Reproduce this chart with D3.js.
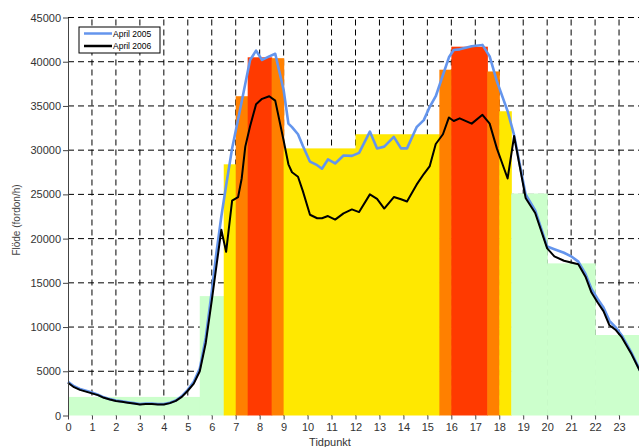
<!DOCTYPE html>
<html>
<head>
<meta charset="utf-8">
<script src="https://cdn.jsdelivr.net/npm/d3@7"></script>
<style>
  body { margin: 0; background: #fff; }
  svg { display: block; font-family: "Liberation Sans", Arial, sans-serif; }
</style>
</head>
<body>
<div id="chart"></div>
<script>
// time points (hours) shared by both series
var hours = [0, 0.25, 0.5, 0.75, 1, 1.25, 1.5, 1.75, 2, 2.25, 2.5, 2.75, 3, 3.25, 3.5, 3.75,
  4, 4.25, 4.5, 4.75, 5, 5.25, 5.5, 5.75, 6, 6.2, 6.4, 6.6, 6.85, 7.1, 7.25, 7.4, 7.6, 7.85,
  8.1, 8.4, 8.65, 9.0, 9.2, 9.35, 9.6, 9.8, 10.1, 10.4, 10.6, 10.85, 11.15, 11.5, 11.85,
  12.15, 12.6, 12.9, 13.2, 13.6, 13.9, 14.15, 14.55, 14.85, 15.1, 15.35, 15.65, 15.9, 16.1,
  16.35, 16.85, 17.3, 17.6, 17.9, 18.35, 18.62, 19.1, 19.5, 20.0, 20.3, 20.7, 21.0, 21.3,
  21.6, 21.85, 22.1, 22.35, 22.6, 22.85, 23.1, 23.5, 24.0];

var april2005 = [3800, 3300, 3000, 2800, 2600, 2350, 2050, 1850, 1700, 1600, 1500, 1400, 1300, 1350, 1350, 1300,
  1300, 1450, 1700, 2200, 2900, 3800, 5300, 8800, 14000, 18500, 22500, 26000, 30200, 33500, 35500, 37500, 40200, 41250,
  40200, 40600, 40900, 36800, 33000, 32600, 31800, 30500, 28700, 28300, 27900, 28950, 28500, 29400, 29350,
  29700, 32100, 30200, 30400, 31500, 30200, 30200, 32600, 33400, 34900, 36100, 38500, 40500, 41330,
  41400, 41750, 41900, 40600, 37800, 34400, 31700, 25000, 23200, 19100, 18800, 18400, 18000, 17400,
  16000, 14300, 13200, 12200, 10700, 10000, 9100, 7200, 4400];

var april2006 = [3700, 3200, 2900, 2700, 2500, 2300, 2000, 1800, 1650, 1550, 1450, 1350, 1250, 1300, 1300, 1250,
  1250, 1400, 1650, 2100, 2800, 3600, 5000, 8200, 13000, 17000, 21000, 18500, 24300, 24700, 26800, 30400, 32700, 35200,
  35800, 36100, 35600, 31100, 28400, 27500, 27000, 25400, 22700, 22300, 22300, 22550, 22150, 22850, 23300,
  23000, 25000, 24500, 23400, 24700, 24450, 24200, 26100, 27300, 28200, 30700, 31800, 33700, 33300,
  33600, 33000, 34000, 33000, 30200, 26800, 31600, 24600, 22900, 18900, 18000, 17500, 17300, 17100,
  15700, 13900, 12800, 11800, 10200, 9700, 8900, 7050, 4300];

// background level steps
var stepStart = [0, 5.5, 6.5, 7, 7.5, 8.5, 9, 12, 15.5, 16, 17.5, 18, 18.5, 20, 22];
var stepEnd   = [5.5, 6.5, 7, 7.5, 8.5, 9, 12, 15.5, 16, 17.5, 18, 18.5, 20, 22, 24];
var stepValue = [2100, 13500, 28400, 36100, 40500, 40400, 30200, 31800, 39100, 41700, 38900, 34400, 25100, 17200, 9100];
var stepLevel = ["low", "low", "mid", "high", "peak", "high", "mid", "mid", "high", "peak", "high", "mid", "low", "low", "low"];

var xTicks = d3.range(0, 24);
var yTicks = [0, 5000, 10000, 15000, 20000, 25000, 30000, 35000, 40000, 45000];
var seriesNames = ["April 2005", "April 2006"];

var levelColor = { low: "#ccffcc", mid: "#ffe800", high: "#ff8000", peak: "#ff3a00" };
var lineColor = ["#6495ed", "#000000"];
var lineWidth = [2.6, 2];

var W = 639, H = 447;
var margin = {top: 17.5, left: 68, bottom: 31.5, right: -4};

var svg = d3.select("#chart").append("svg")
  .attr("width", W).attr("height", H);

var x = d3.scaleLinear().domain([0, 24]).range([margin.left, W - margin.right]);
var y = d3.scaleLinear().domain([0, 45000]).range([H - margin.bottom, margin.top]);

// grid
var grid = svg.append("g").attr("stroke", "#000").attr("stroke-width", 1)
  .attr("stroke-dasharray", "6,4");
grid.selectAll("line.v").data(xTicks.slice(1)).enter().append("line")
  .attr("x1", function(d) { return x(d); }).attr("x2", function(d) { return x(d); })
  .attr("y1", y(0)).attr("y2", y(45000));
grid.selectAll("line.h").data(yTicks.slice(1)).enter().append("line")
  .attr("x1", x(0)).attr("x2", W)
  .attr("y1", function(d) { return y(d); }).attr("y2", function(d) { return y(d); });

// level blocks (slight overlap so no seams show the grid through)
var steps = stepStart.map(function(s, i) {
  return {s: s, e: stepEnd[i], v: stepValue[i], lvl: stepLevel[i]};
});
svg.append("g").selectAll("rect").data(steps).enter().append("rect")
  .attr("x", function(d) { return x(d.s); })
  .attr("width", function(d) { return x(d.e) - x(d.s) + 0.6; })
  .attr("y", function(d) { return y(d.v); })
  .attr("height", function(d) { return y(0) - y(d.v); })
  .attr("fill", function(d) { return levelColor[d.lvl]; });

// lines
var line = d3.line()
  .x(function(d) { return x(d[0]); })
  .y(function(d) { return y(d[1]); });
[april2005, april2006].forEach(function(vals, i) {
  svg.append("path")
    .datum(hours.map(function(h, j) { return [h, vals[j]]; }))
    .attr("d", line)
    .attr("fill", "none")
    .attr("stroke", lineColor[i])
    .attr("stroke-width", lineWidth[i])
    .attr("stroke-linejoin", "round");
});

// axes
var yAxis = svg.append("g")
  .attr("transform", "translate(" + x(0) + ",0)")
  .call(d3.axisLeft(y).tickValues(yTicks).tickFormat(d3.format("d"))
    .tickSize(5).tickPadding(2).tickSizeOuter(0));
var xAxis = svg.append("g")
  .attr("transform", "translate(0," + y(0) + ")")
  .call(d3.axisBottom(x).tickValues(xTicks).tickFormat(d3.format("d"))
    .tickSize(4).tickPadding(4).tickSizeOuter(0));
xAxis.select(".domain").remove();
[xAxis, yAxis].forEach(function(a) {
  a.selectAll("text").attr("fill", "#333").style("font-size", "11px")
    .style("font-family", "'Liberation Sans', Arial, sans-serif");
  a.selectAll("line").attr("stroke", "#444");
  a.select(".domain").attr("stroke", "#444");
});

svg.append("text")
  .attr("x", 330).attr("y", 446)
  .attr("text-anchor", "middle")
  .attr("fill", "#333").style("font-size", "11px")
  .text("Tidpunkt");

svg.append("text")
  .attr("transform", "translate(20,220)rotate(-90)")
  .attr("text-anchor", "middle")
  .attr("fill", "#444").style("font-size", "10px")
  .text("Flöde (fordon/h)");

// legend
var lg = svg.append("g").attr("transform", "translate(79,27)");
lg.append("rect").attr("width", 81).attr("height", 26)
  .attr("fill", "#fff").attr("stroke", "#000").attr("stroke-width", 1);
seriesNames.forEach(function(n, i) {
  var yy = 6.5 + i * 12.5;
  lg.append("line").attr("x1", 5).attr("x2", 33).attr("y1", yy).attr("y2", yy)
    .attr("stroke", lineColor[i]).attr("stroke-width", 2.5);
  lg.append("text").attr("x", 34).attr("y", yy + 3)
    .style("font-size", "8.5px").attr("fill", "#000").text(n);
});
</script>
</body>
</html>
